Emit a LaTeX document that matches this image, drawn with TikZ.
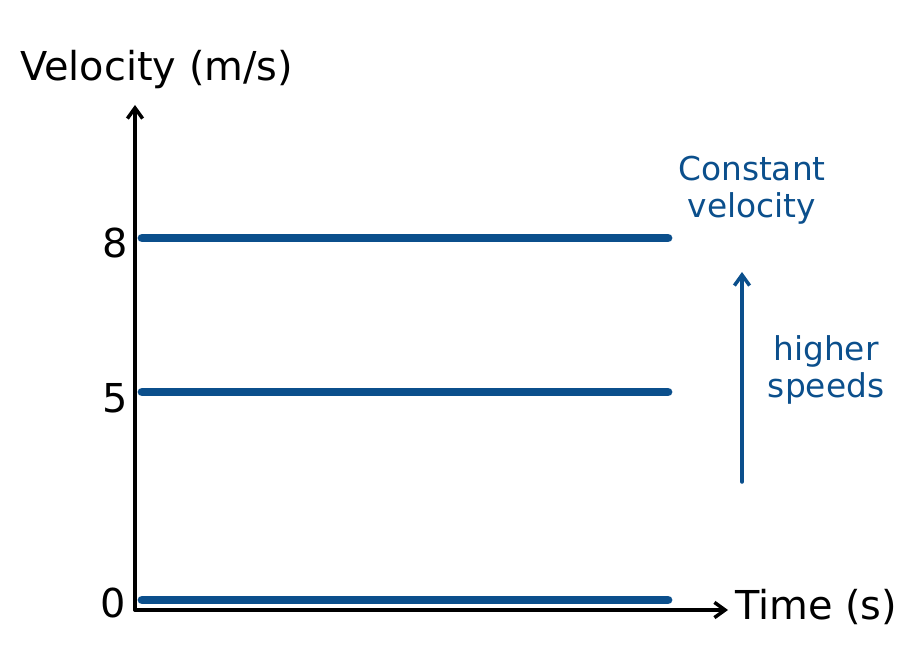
\documentclass[tikz,border=0pt]{standalone}
\usetikzlibrary{arrows.meta}
\usepackage{fontspec}
\setmainfont{DejaVu Sans}
\definecolor{vblue}{HTML}{0B4F8C}
\begin{document}
\begin{tikzpicture}[x=0.03cm,y=-0.03cm,
  ax/.style={line width=3pt,-{Straight Barb[length=9pt,width=13pt]},line cap=round},
  vline/.style={vblue,line width=7.5pt,line cap=round},
  lab/.style={font=\fontsize{34}{38}\selectfont},
  blab/.style={vblue,font=\fontsize{28}{32}\selectfont,align=center}]
\useasboundingbox (0,0) rectangle (898,654);
\coordinate (o) at (135,610);
\coordinate (ytop) at (135,105);
\coordinate (xend) at (728,610);
\draw[ax] (o) -- (ytop);
\draw[ax] (o) -- (xend);
\coordinate (a1) at (142,238); \coordinate (a2) at (668,238);
\coordinate (b1) at (142,392); \coordinate (b2) at (668,392);
\coordinate (c1) at (142,600); \coordinate (c2) at (668,600);
\draw[vline] (a1) -- (a2);
\draw[vline] (b1) -- (b2);
\draw[vline] (c1) -- (c2);
\node[lab] (l8) at (115,243) {8};
\node[lab] (l5) at (115,398) {5};
\node[lab] (l0) at (113,603) {0};
\node[lab,anchor=west,inner sep=0pt] (ylab) at (20,70) {Velocity (m/s)};
\node[lab,anchor=west,inner sep=0pt] (xlab) at (735,607) {Time (s)};
\node[blab] (cv) at (752,190) {Constant\\velocity};
\coordinate (u1) at (742,482); \coordinate (u2) at (742,272);
\draw[ax,vblue] (u1) -- (u2);
\node[blab] (hs) at (826,370) {higher\\speeds};
\end{tikzpicture}
\end{document}
